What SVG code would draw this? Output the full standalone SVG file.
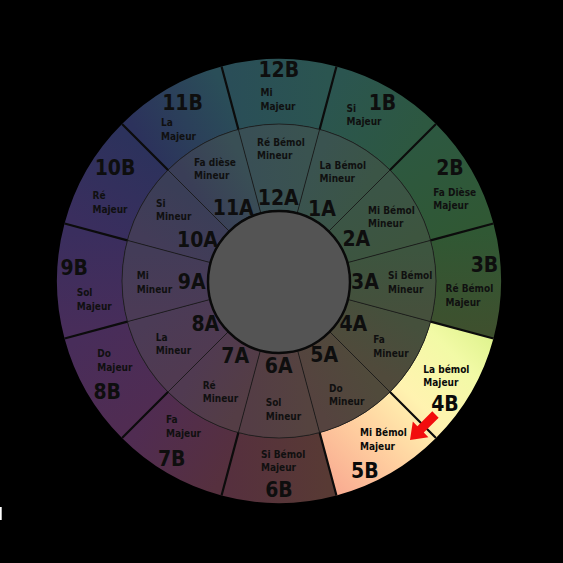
<svg xmlns="http://www.w3.org/2000/svg" width="563" height="563" viewBox="0 0 563 563">
<style>
.k{font-family:"DejaVu Sans Condensed","Liberation Sans",sans-serif;font-weight:bold;font-size:10px;fill:#101010}
.b{font-family:"DejaVu Sans Condensed","Liberation Sans",sans-serif;font-weight:bold;font-size:21px;fill:#0e0e0e;text-anchor:middle}
.dv{stroke:#0c0c0c;stroke-width:2.2;fill:none}
.di{stroke:#1a1a1a;stroke-width:1;fill:none;opacity:.85}
</style>
<defs>
<linearGradient id="gB12" gradientUnits="userSpaceOnUse" x1="229.82" y1="97.47" x2="328.18" y2="97.47"><stop offset="0" stop-color="#2a4e58"/><stop offset="1" stop-color="#2b5550"/></linearGradient>
<linearGradient id="gB1" gradientUnits="userSpaceOnUse" x1="328.18" y1="97.47" x2="413.35" y2="146.65"><stop offset="0" stop-color="#2b5550"/><stop offset="1" stop-color="#2d5840"/></linearGradient>
<linearGradient id="gB2" gradientUnits="userSpaceOnUse" x1="413.35" y1="146.65" x2="462.53" y2="231.82"><stop offset="0" stop-color="#2d5840"/><stop offset="1" stop-color="#305834"/></linearGradient>
<linearGradient id="gB3" gradientUnits="userSpaceOnUse" x1="462.53" y1="231.82" x2="462.53" y2="330.18"><stop offset="0" stop-color="#305834"/><stop offset="1" stop-color="#3e502e"/></linearGradient>
<linearGradient id="gB6" gradientUnits="userSpaceOnUse" x1="328.18" y1="464.53" x2="229.82" y2="464.53"><stop offset="0" stop-color="#583a34"/><stop offset="1" stop-color="#56303e"/></linearGradient>
<linearGradient id="gB7" gradientUnits="userSpaceOnUse" x1="229.82" y1="464.53" x2="144.65" y2="415.35"><stop offset="0" stop-color="#56303e"/><stop offset="1" stop-color="#502c52"/></linearGradient>
<linearGradient id="gB8" gradientUnits="userSpaceOnUse" x1="144.65" y1="415.35" x2="95.47" y2="330.18"><stop offset="0" stop-color="#502c52"/><stop offset="1" stop-color="#482d5a"/></linearGradient>
<linearGradient id="gB9" gradientUnits="userSpaceOnUse" x1="95.47" y1="330.18" x2="95.47" y2="231.82"><stop offset="0" stop-color="#482d5a"/><stop offset="1" stop-color="#3a2e5e"/></linearGradient>
<linearGradient id="gB10" gradientUnits="userSpaceOnUse" x1="95.47" y1="231.82" x2="144.65" y2="146.65"><stop offset="0" stop-color="#3a2e5e"/><stop offset="1" stop-color="#2c325c"/></linearGradient>
<linearGradient id="gB11" gradientUnits="userSpaceOnUse" x1="144.65" y1="146.65" x2="229.82" y2="97.47"><stop offset="0" stop-color="#2c325c"/><stop offset="1" stop-color="#2a4e58"/></linearGradient>
<linearGradient id="gHi" gradientUnits="userSpaceOnUse" x1="330" y1="495" x2="495" y2="330"><stop offset="0" stop-color="#f8a890"/><stop offset="0.3" stop-color="#ffd0a0"/><stop offset="0.55" stop-color="#fff3b0"/><stop offset="0.8" stop-color="#f2faa6"/><stop offset="1" stop-color="#dcf28a"/></linearGradient>
<linearGradient id="gA12" gradientUnits="userSpaceOnUse" x1="249.49" y1="170.88" x2="308.51" y2="170.88"><stop offset="0" stop-color="#394f55"/><stop offset="1" stop-color="#3a5350"/></linearGradient>
<linearGradient id="gA1" gradientUnits="userSpaceOnUse" x1="308.51" y1="170.88" x2="359.61" y2="200.39"><stop offset="0" stop-color="#3a5350"/><stop offset="1" stop-color="#3b5546"/></linearGradient>
<linearGradient id="gA2" gradientUnits="userSpaceOnUse" x1="359.61" y1="200.39" x2="389.12" y2="251.49"><stop offset="0" stop-color="#3b5546"/><stop offset="1" stop-color="#3d553f"/></linearGradient>
<linearGradient id="gA3" gradientUnits="userSpaceOnUse" x1="389.12" y1="251.49" x2="389.12" y2="310.51"><stop offset="0" stop-color="#3d553f"/><stop offset="1" stop-color="#45503c"/></linearGradient>
<linearGradient id="gA4" gradientUnits="userSpaceOnUse" x1="389.12" y1="310.51" x2="359.61" y2="361.61"><stop offset="0" stop-color="#45503c"/><stop offset="1" stop-color="#504a3b"/></linearGradient>
<linearGradient id="gA5" gradientUnits="userSpaceOnUse" x1="359.61" y1="361.61" x2="308.51" y2="391.12"><stop offset="0" stop-color="#504a3b"/><stop offset="1" stop-color="#55433f"/></linearGradient>
<linearGradient id="gA6" gradientUnits="userSpaceOnUse" x1="308.51" y1="391.12" x2="249.49" y2="391.12"><stop offset="0" stop-color="#55433f"/><stop offset="1" stop-color="#543d45"/></linearGradient>
<linearGradient id="gA7" gradientUnits="userSpaceOnUse" x1="249.49" y1="391.12" x2="198.39" y2="361.61"><stop offset="0" stop-color="#543d45"/><stop offset="1" stop-color="#503a51"/></linearGradient>
<linearGradient id="gA8" gradientUnits="userSpaceOnUse" x1="198.39" y1="361.61" x2="168.88" y2="310.51"><stop offset="0" stop-color="#503a51"/><stop offset="1" stop-color="#4b3b56"/></linearGradient>
<linearGradient id="gA9" gradientUnits="userSpaceOnUse" x1="168.88" y1="310.51" x2="168.88" y2="251.49"><stop offset="0" stop-color="#4b3b56"/><stop offset="1" stop-color="#433c58"/></linearGradient>
<linearGradient id="gA10" gradientUnits="userSpaceOnUse" x1="168.88" y1="251.49" x2="198.39" y2="200.39"><stop offset="0" stop-color="#433c58"/><stop offset="1" stop-color="#3a3e57"/></linearGradient>
<linearGradient id="gA11" gradientUnits="userSpaceOnUse" x1="198.39" y1="200.39" x2="249.49" y2="170.88"><stop offset="0" stop-color="#3a3e57"/><stop offset="1" stop-color="#394f55"/></linearGradient>
</defs>
<rect x="0" y="0" width="563" height="563" fill="#000"/>
<rect x="0" y="507" width="1.7" height="13" fill="#fff"/>

<g id="key-12B"><path fill="url(#gB12)" d="M221.54,66.56 A222,222 0 0 1 336.46,66.56 L319.63,129.35 A157,157 0 0 0 238.37,129.35 Z"/>
<text class="b" x="278.8" y="77.3">12B</text><text class="k" x="260.5" y="96">Mi</text><text class="k" x="260.5" y="110">Majeur</text></g>
<g id="key-1B"><path fill="url(#gB1)" d="M336.46,66.56 A222,222 0 0 1 435.98,124.02 L390.02,169.98 A157,157 0 0 0 319.63,129.35 Z"/>
<text class="b" x="382.5" y="109.5">1B</text><text class="k" x="346.5" y="111.5">Si</text><text class="k" x="346.5" y="125">Majeur</text></g>
<g id="key-2B"><path fill="url(#gB2)" d="M435.98,124.02 A222,222 0 0 1 493.44,223.54 L430.65,240.37 A157,157 0 0 0 390.02,169.98 Z"/>
<text class="b" x="450" y="175">2B</text><text class="k" x="433.3" y="195.5">Fa Dièse</text><text class="k" x="433.3" y="209.3">Majeur</text></g>
<g id="key-3B"><path fill="url(#gB3)" d="M493.44,223.54 A222,222 0 0 1 493.44,338.46 L430.65,321.63 A157,157 0 0 0 430.65,240.37 Z"/>
<text class="b" x="484.5" y="271.5">3B</text><text class="k" x="445.5" y="292">Ré Bémol</text><text class="k" x="445.5" y="305.5">Majeur</text></g>
<g id="key-4B"><path fill="url(#gHi)" d="M493.44,338.46 A222,222 0 0 1 435.98,437.98 L390.02,392.02 A157,157 0 0 0 430.65,321.63 Z"/>
<text class="b" x="445" y="410.7" style="fill:#0a0a0a">4B</text><text class="k" x="423.3" y="373.3" style="fill:#0a0a0a">La bémol</text><text class="k" x="423.3" y="386" style="fill:#0a0a0a">Majeur</text></g>
<g id="key-5B"><path fill="url(#gHi)" d="M435.98,437.98 A222,222 0 0 1 336.46,495.44 L319.63,432.65 A157,157 0 0 0 390.02,392.02 Z"/>
<text class="b" x="364.8" y="477.5" style="fill:#0a0a0a">5B</text><text class="k" x="360" y="436" style="fill:#0a0a0a">Mi Bémol</text><text class="k" x="360" y="449.5" style="fill:#0a0a0a">Majeur</text></g>
<g id="key-6B"><path fill="url(#gB6)" d="M336.46,495.44 A222,222 0 0 1 221.54,495.44 L238.37,432.65 A157,157 0 0 0 319.63,432.65 Z"/>
<text class="b" x="279" y="497">6B</text><text class="k" x="261" y="457.7">Si Bémol</text><text class="k" x="261" y="471">Majeur</text></g>
<g id="key-7B"><path fill="url(#gB7)" d="M221.54,495.44 A222,222 0 0 1 122.02,437.98 L167.98,392.02 A157,157 0 0 0 238.37,432.65 Z"/>
<text class="b" x="171.7" y="465.5">7B</text><text class="k" x="166" y="423.3">Fa</text><text class="k" x="166" y="437">Majeur</text></g>
<g id="key-8B"><path fill="url(#gB8)" d="M122.02,437.98 A222,222 0 0 1 64.56,338.46 L127.35,321.63 A157,157 0 0 0 167.98,392.02 Z"/>
<text class="b" x="107.2" y="399">8B</text><text class="k" x="97.3" y="357">Do</text><text class="k" x="97.3" y="370.7">Majeur</text></g>
<g id="key-9B"><path fill="url(#gB9)" d="M64.56,338.46 A222,222 0 0 1 64.56,223.54 L127.35,240.37 A157,157 0 0 0 127.35,321.63 Z"/>
<text class="b" x="74.2" y="274.5">9B</text><text class="k" x="76.7" y="296">Sol</text><text class="k" x="76.7" y="310">Majeur</text></g>
<g id="key-10B"><path fill="url(#gB10)" d="M64.56,223.54 A222,222 0 0 1 122.02,124.02 L167.98,169.98 A157,157 0 0 0 127.35,240.37 Z"/>
<text class="b" x="115" y="174.5">10B</text><text class="k" x="92.5" y="199">Ré</text><text class="k" x="92.5" y="212.7">Majeur</text></g>
<g id="key-11B"><path fill="url(#gB11)" d="M122.02,124.02 A222,222 0 0 1 221.54,66.56 L238.37,129.35 A157,157 0 0 0 167.98,169.98 Z"/>
<text class="b" x="182.5" y="109.5">11B</text><text class="k" x="161" y="126">La</text><text class="k" x="161" y="139.5">Majeur</text></g>

<g id="key-12A"><path fill="url(#gA12)" d="M238.37,129.35 A157,157 0 0 1 319.63,129.35 L297.38,212.42 A71,71 0 0 0 260.62,212.42 Z"/>
<text class="k" x="257" y="145.5">Ré Bémol</text><text class="k" x="257" y="159">Mineur</text></g>
<g id="key-1A"><path fill="url(#gA1)" d="M319.63,129.35 A157,157 0 0 1 390.02,169.98 L329.20,230.80 A71,71 0 0 0 297.38,212.42 Z"/>
<text class="k" x="319.6" y="169">La Bémol</text><text class="k" x="319.6" y="182">Mineur</text></g>
<g id="key-2A"><path fill="url(#gA2)" d="M390.02,169.98 A157,157 0 0 1 430.65,240.37 L347.58,262.62 A71,71 0 0 0 329.20,230.80 Z"/>
<text class="k" x="368" y="213.6">Mi Bémol</text><text class="k" x="368" y="227">Mineur</text></g>
<g id="key-3A"><path fill="url(#gA3)" d="M430.65,240.37 A157,157 0 0 1 430.65,321.63 L347.58,299.38 A71,71 0 0 0 347.58,262.62 Z"/>
<text class="k" x="388" y="279">Si Bémol</text><text class="k" x="388" y="292.6">Mineur</text></g>
<g id="key-4A"><path fill="url(#gA4)" d="M430.65,321.63 A157,157 0 0 1 390.02,392.02 L329.20,331.20 A71,71 0 0 0 347.58,299.38 Z"/>
<text class="k" x="373.3" y="343.3">Fa</text><text class="k" x="373.3" y="356.5">Mineur</text></g>
<g id="key-5A"><path fill="url(#gA5)" d="M390.02,392.02 A157,157 0 0 1 319.63,432.65 L297.38,349.58 A71,71 0 0 0 329.20,331.20 Z"/>
<text class="k" x="329" y="391.7">Do</text><text class="k" x="329" y="404.5">Mineur</text></g>
<g id="key-6A"><path fill="url(#gA6)" d="M319.63,432.65 A157,157 0 0 1 238.37,432.65 L260.62,349.58 A71,71 0 0 0 297.38,349.58 Z"/>
<text class="k" x="265.7" y="406.2">Sol</text><text class="k" x="265.7" y="419.5">Mineur</text></g>
<g id="key-7A"><path fill="url(#gA7)" d="M238.37,432.65 A157,157 0 0 1 167.98,392.02 L228.80,331.20 A71,71 0 0 0 260.62,349.58 Z"/>
<text class="k" x="202.7" y="388.5">Ré</text><text class="k" x="202.7" y="402.3">Mineur</text></g>
<g id="key-8A"><path fill="url(#gA8)" d="M167.98,392.02 A157,157 0 0 1 127.35,321.63 L210.42,299.38 A71,71 0 0 0 228.80,331.20 Z"/>
<text class="k" x="155.7" y="341">La</text><text class="k" x="155.7" y="354.3">Mineur</text></g>
<g id="key-9A"><path fill="url(#gA9)" d="M127.35,321.63 A157,157 0 0 1 127.35,240.37 L210.42,262.62 A71,71 0 0 0 210.42,299.38 Z"/>
<text class="k" x="136.7" y="279.3">Mi</text><text class="k" x="136.7" y="293">Mineur</text></g>
<g id="key-10A"><path fill="url(#gA10)" d="M127.35,240.37 A157,157 0 0 1 167.98,169.98 L228.80,230.80 A71,71 0 0 0 210.42,262.62 Z"/>
<text class="k" x="156" y="206.7">Si</text><text class="k" x="156" y="220">Mineur</text></g>
<g id="key-11A"><path fill="url(#gA11)" d="M167.98,169.98 A157,157 0 0 1 238.37,129.35 L260.62,212.42 A71,71 0 0 0 228.80,230.80 Z"/>
<text class="k" x="194" y="165.5">Fa dièse</text><text class="k" x="194" y="178.7">Mineur</text></g>

<g id="dividers">
<circle cx="279" cy="281" r="157" fill="none" stroke="#1c1c1c" stroke-width="1" opacity=".85"/>
<path class="di" d="M297.38,212.42L319.63,129.35M329.20,230.80L390.02,169.98M347.58,262.62L430.65,240.37M347.58,299.38L430.65,321.63M329.20,331.20L390.02,392.02M297.38,349.58L319.63,432.65M260.62,349.58L238.37,432.65M228.80,331.20L167.98,392.02M210.42,299.38L127.35,321.63M210.42,262.62L127.35,240.37M228.80,230.80L167.98,169.98M260.62,212.42L238.37,129.35"/>
<path class="dv" d="M319.63,129.35L336.46,66.56M390.02,169.98L435.98,124.02M430.65,240.37L493.44,223.54M430.65,321.63L493.44,338.46M390.02,392.02L435.98,437.98M319.63,432.65L336.46,495.44M238.37,432.65L221.54,495.44M167.98,392.02L122.02,437.98M127.35,321.63L64.56,338.46M127.35,240.37L64.56,223.54M167.98,169.98L122.02,124.02M238.37,129.35L221.54,66.56"/>
</g>

<g id="center"><circle cx="279" cy="282" r="71" fill="#545454" stroke="#0a0a0a" stroke-width="2.5"/></g>

<g id="labels-A">
<text class="b" x="278.2" y="205.3">12A</text>
<text class="b" x="322" y="215.7">1A</text>
<text class="b" x="356.3" y="245.7">2A</text>
<text class="b" x="365" y="289">3A</text>
<text class="b" x="353.3" y="330.7">4A</text>
<text class="b" x="324.2" y="362.3">5A</text>
<text class="b" x="278.7" y="373.3">6A</text>
<text class="b" x="235.2" y="362.8">7A</text>
<text class="b" x="205.3" y="330.5">8A</text>
<text class="b" x="191.7" y="288.5">9A</text>
<text class="b" x="197.5" y="247">10A</text>
<text class="b" x="233.2" y="214.5">11A</text>
</g>

<g id="connectors">
<polygon fill="#f20d0d" points="438.64,417.72 423.79,432.57 428.39,437.17 410,440 412.83,421.61 417.43,426.21 432.28,411.36"/>
</g>
</svg>
